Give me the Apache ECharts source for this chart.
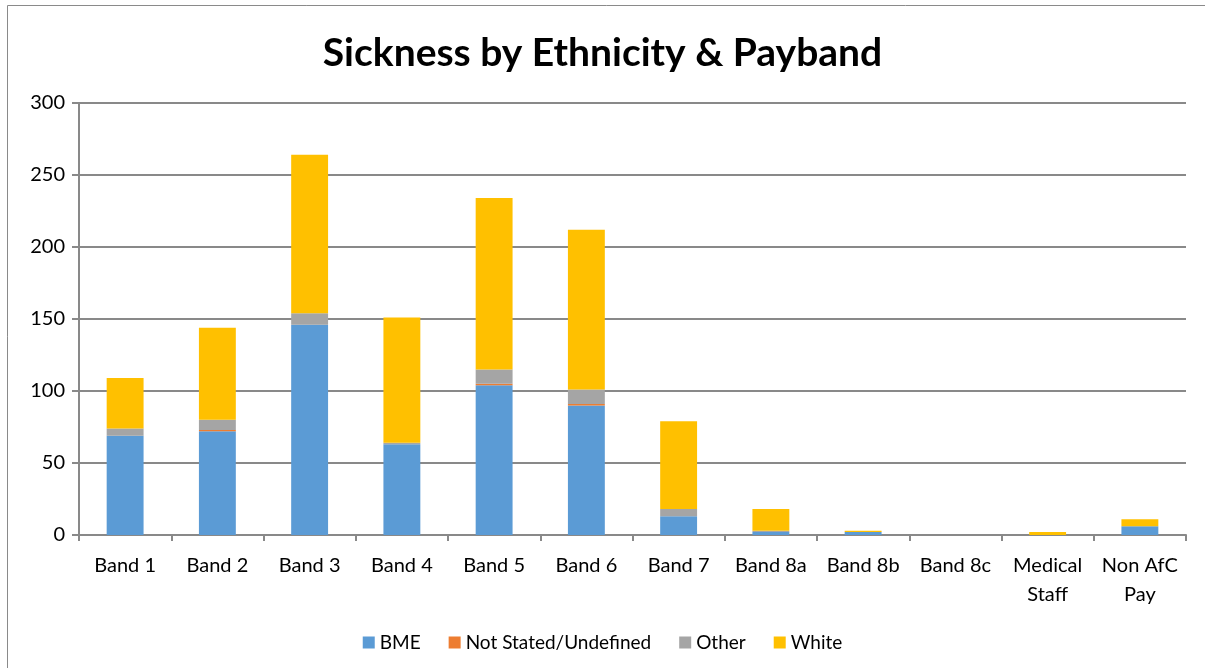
<!DOCTYPE html>
<html>
<head>
<meta charset="utf-8">
<script src="https://cdn.jsdelivr.net/npm/echarts@6/dist/echarts.min.js"></script>
<style>
  html, body { margin: 0; padding: 0; background: #fff; }
  #chart { width: 1205px; height: 668px; }
</style>
</head>
<body>
<div id="chart"></div>
<script>
// Paybands along the category axis
const categories = ['Band 1', 'Band 2', 'Band 3', 'Band 4', 'Band 5', 'Band 6', 'Band 7',
  'Band 8a', 'Band 8b', 'Band 8c', 'Medical\nStaff', 'Non AfC\nPay'];

// Sickness counts per ethnicity group
const bme         = [69, 72, 146, 63, 104, 90, 13, 2, 2, 0, 0, 6];
const notStated   = [0, 1, 0, 0, 1, 1, 0, 0, 0, 0, 0, 0];
const other       = [5, 7, 8, 1, 10, 10, 5, 1, 0, 0, 0, 0];
const white       = [35, 64, 110, 87, 119, 111, 61, 15, 1, 0, 2, 5];

// Value axis ticks
const yTicks = [0, 50, 100, 150, 200, 250, 300];

const font = 'Lato, "Open Sans", sans-serif';
const axisGrey = '#898989';

const chart = echarts.init(document.getElementById('chart'));

function barSeries(name, data, color) {
  return {
    name: name,
    type: 'bar',
    stack: 'total',
    data: data,
    barWidth: '40%',
    itemStyle: { color: color },
    emphasis: { disabled: true }
  };
}

chart.setOption({
  animation: false,
  textStyle: { fontFamily: font },
  title: {
    text: 'Sickness by Ethnicity & Payband',
    left: 'center',
    top: 29,
    textStyle: { fontFamily: font, fontSize: 39, fontWeight: 'bold', color: '#000' }
  },
  graphic: [
    { type: 'line', shape: { x1: 7.5, y1: 5.5, x2: 1205, y2: 5.5 }, style: { stroke: '#8a8a8a', lineWidth: 1 } },
    { type: 'line', shape: { x1: 7.5, y1: 5.5, x2: 7.5, y2: 668 }, style: { stroke: '#8a8a8a', lineWidth: 1 } }
  ],
  legend: {
    bottom: 11,
    left: 'center',
    itemWidth: 12,
    itemHeight: 12,
    itemGap: 28,
    icon: 'rect',
    textStyle: { fontFamily: font, fontSize: 19, color: '#000' },
    data: ['BME', 'Not Stated/Undefined', 'Other', 'White']
  },
  grid: { left: 79, right: 19, top: 103, bottom: 133, containLabel: false },
  xAxis: {
    type: 'category',
    data: categories,
    axisLine: { lineStyle: { color: axisGrey, width: 2 } },
    axisTick: { show: true, length: 6, lineStyle: { color: axisGrey, width: 2 } },
    axisLabel: { fontFamily: font, fontSize: 20, color: '#000', margin: 16, lineHeight: 29, interval: 0 }
  },
  yAxis: {
    type: 'value',
    min: yTicks[0],
    max: yTicks[yTicks.length - 1],
    interval: 50,
    axisLine: { show: true, lineStyle: { color: axisGrey, width: 2 } },
    axisTick: { show: true, length: 7, lineStyle: { color: axisGrey, width: 2 } },
    axisLabel: { fontFamily: font, fontSize: 20, color: '#000', margin: 14 },
    splitLine: { lineStyle: { color: axisGrey, width: 2 } }
  },
  series: [
    barSeries('BME', bme, '#5B9BD5'),
    barSeries('Not Stated/Undefined', notStated, '#ED7D31'),
    barSeries('Other', other, '#A5A5A5'),
    barSeries('White', white, '#FFC000')
  ]
});
</script>
</body>
</html>
